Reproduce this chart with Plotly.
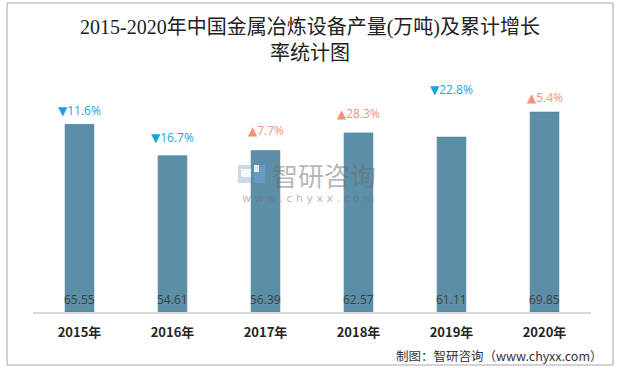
import plotly.graph_objects as go

# ---- data ----
years = ["2015年", "2016年", "2017年", "2018年", "2019年", "2020年"]
output = [65.55, 54.61, 56.39, 62.57, 61.11, 69.85]
growth = [-11.6, -16.7, 7.7, 28.3, -22.8, 5.4]

# ---- styles ----
W, H = 618, 368
PL, PR, PT, PB = 33, 591, 83, 312  # plot area in px
BAR = "#5b8fa7"
UP = "#f2937b"
DOWN = "#1aa3e0"
label_shift = [14, 18, 20, 19, 48, 15]  # px above bar top


def px2x(px):
    return (px - PL) / (PR - PL)


def px2y(py):
    return (PB - py) / (PB - PT)


fig = go.Figure()
fig.add_trace(go.Bar(
    x=years, y=output, width=0.31,
    marker=dict(color=BAR, line=dict(color="#4f8099", width=0.6)),
    hoverinfo="skip", showlegend=False,
))

ann = []
for yr, v, g, s in zip(years, output, growth, label_shift):
    ann.append(dict(x=yr, y=0, xref="x", yref="y", text=f"{v:.2f}", showarrow=False,
                    yanchor="middle", yshift=13,
                    font=dict(size=12, color="#404040", family="Open Sans, Noto Sans CJK SC")))
    txt = ("▲" if g >= 0 else "▼") + f"{abs(g):.1f}%"
    ann.append(dict(x=yr, y=v, xref="x", yref="y", text=txt, showarrow=False,
                    yanchor="middle", yshift=s,
                    font=dict(size=12, color=UP if g >= 0 else DOWN,
                              family="Open Sans, DejaVu Sans, Noto Sans CJK SC")))

# source
ann.append(dict(x=px2x(605), y=px2y(355), xref="paper", yref="paper", xanchor="right",
                yanchor="middle", showarrow=False, text="制图：智研咨询（www.chyxx.com）",
                font=dict(size=12.5, color="#333333", family="Noto Sans CJK SC")))
# watermark
ann.append(dict(x=px2x(324), y=px2y(174), xref="paper", yref="paper", xanchor="center",
                yanchor="middle", showarrow=False, text="智研咨询",
                font=dict(size=26, color="rgba(110,110,110,0.5)", family="Noto Sans CJK SC")))
ann.append(dict(x=px2x(308), y=px2y(198), xref="paper", yref="paper", xanchor="center",
                yanchor="middle", showarrow=False, text="w w w . c h y x x . c o m",
                font=dict(size=11, color="rgba(110,110,110,0.5)", family="DejaVu Sans")))

shapes = [
    dict(type="rect", xref="paper", yref="paper", x0=px2x(7), x1=px2x(613),
         y0=px2y(365), y1=px2y(3), line=dict(color="#a6a6a6", width=1)),
    # watermark icon
    dict(type="rect", xref="paper", yref="paper", x0=px2x(238), x1=px2x(251),
         y0=px2y(183), y1=px2y(165), fillcolor="rgba(170,190,215,0.6)", line=dict(width=0)),
    dict(type="rect", xref="paper", yref="paper", x0=px2x(241), x1=px2x(251),
         y0=px2y(177), y1=px2y(169), fillcolor="rgba(255,255,255,0.8)", line=dict(width=0)),
    dict(type="rect", xref="paper", yref="paper", x0=px2x(254), x1=px2x(265),
         y0=px2y(183), y1=px2y(165), fillcolor="rgba(120,160,210,0.6)", line=dict(width=0)),
    dict(type="rect", xref="paper", yref="paper", x0=px2x(254), x1=px2x(259),
         y0=px2y(172), y1=px2y(165), fillcolor="rgba(255,255,255,0.8)", line=dict(width=0)),
]

fig.update_layout(
    width=W, height=H,
    margin=dict(l=PL, r=W - PR, t=PT, b=H - PB, pad=0),
    paper_bgcolor="white", plot_bgcolor="white",
    title=dict(text="2015-2020年中国金属冶炼设备产量(万吨)及累计增长<br>率统计图",
               x=(310 - PL) / (PR - PL), xref="paper", xanchor="center",
               y=1 - 34 / H, yanchor="middle",
               font=dict(size=20, color="#222222", family="Liberation Serif, Noto Sans CJK SC")),
    xaxis=dict(showgrid=False, showline=True, linecolor="#d9d9d9", linewidth=1.5,
               ticks="", ticklabelstandoff=8,
               tickfont=dict(size=13, color="#262626", family="Noto Sans CJK SC", weight="bold")),
    yaxis=dict(range=[0, 80], visible=False, showgrid=False, zeroline=False),
    annotations=ann, shapes=shapes,
)

fig.write_html("out.html", config={"displayModeBar": False, "staticPlot": True},
               post_script="document.body.style.margin='0';")
